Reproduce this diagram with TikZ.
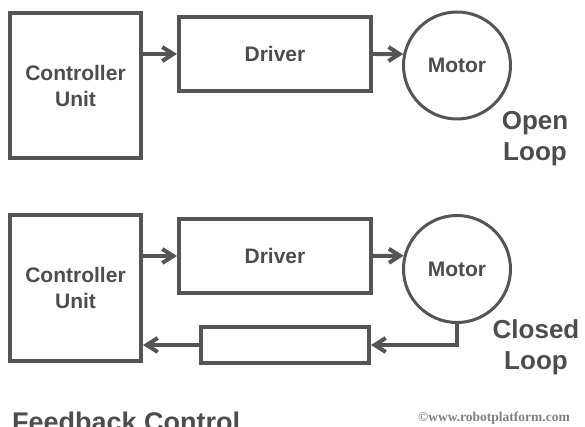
\documentclass[tikz,border=0pt]{standalone}
\usepackage{fontspec}
\setmainfont{Liberation Sans}
\newfontfamily\markfont{Liberation Serif}
\usetikzlibrary{arrows.meta,calc}
\definecolor{linegray}{HTML}{555555}
\definecolor{textgray}{HTML}{4D4D4D}

\begin{document}
\begin{tikzpicture}[x=1pt,y=-1pt,
    blk/.style={draw=linegray,line width=4pt,inner sep=0pt,align=center,
      font=\fontsize{21}{26}\selectfont\bfseries,text=textgray},
    mot/.style={circle,draw=linegray,line width=3pt,minimum size=107pt,inner sep=0pt,
      font=\fontsize{21}{26}\selectfont\bfseries,text=textgray},
    lbl/.style={inner sep=0pt,align=center,font=\fontsize{26}{31}\selectfont\bfseries,text=textgray},
    con/.style={draw=linegray,line width=4pt,-{Straight Barb[length=11pt,width=14pt]}}]
  \useasboundingbox (0,0) rectangle (585,427);

  % open loop
  \node[blk,minimum width=131pt,minimum height=145pt] (ctrl1) at (75.5,85.5) {Controller\\Unit};
  \node[blk,minimum width=192pt,minimum height=74pt] (drv1) at (275,54) {Driver};
  \node[mot] (mot1) at (457,65.5) {Motor};
  \draw[con] (drv1.west -| ctrl1.east) -- (drv1.west);
  \draw[con] (drv1.east) -- (mot1.168);
  \node[lbl] (open) at (535,139) {Open\\Loop};

  % closed loop
  \node[blk,minimum width=131pt,minimum height=146pt] (ctrl2) at (75.5,288) {Controller\\Unit};
  \node[blk,minimum width=192pt,minimum height=74pt] (drv2) at (275,256) {Driver};
  \node[mot] (mot2) at (457,269) {Motor};
  \node[blk,minimum width=168pt,minimum height=36pt] (fb) at (285,345) {};
  \draw[con] (drv2.west -| ctrl2.east) -- (drv2.west);
  \draw[con] (drv2.east) -- (mot2.166);
  \draw[con] (mot2.south) |- (fb.east);
  \draw[con] (fb.west) -- (fb.west -| ctrl2.east);
  \node[lbl] (closed) at (536,347) {Closed\\Loop};

  \node[anchor=base west,inner sep=0pt,text=textgray,
    font=\fontsize{27}{32}\selectfont\bfseries] (title) at (12,431) {Feedback Control};
  \node[inner sep=0pt,text=gray,font=\markfont\bfseries\fontsize{13.5}{15}\selectfont] (mark)
    at (494,418) {©www.robotplatform.com};
\end{tikzpicture}
\end{document}
